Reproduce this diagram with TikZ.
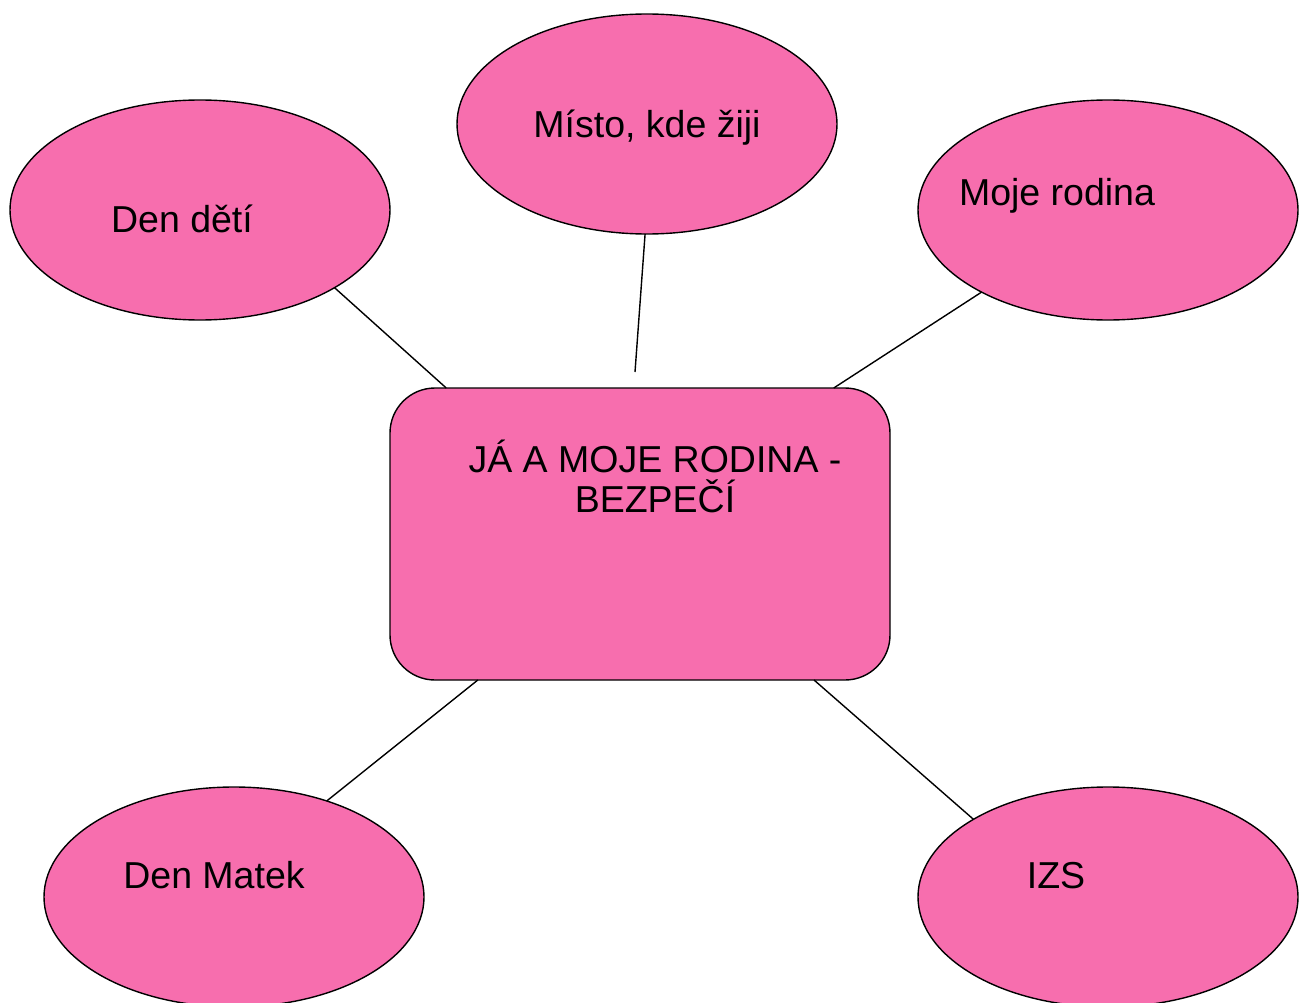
\documentclass[tikz,border=0pt]{standalone}
\usepackage{fontspec}
\setmainfont{Liberation Sans}
\usetikzlibrary{shapes.geometric}

\definecolor{pinkfill}{RGB}{247,110,174}

\begin{document}
\begin{tikzpicture}[x=1pt, y=-1pt,
topicnode/.style={ellipse, draw=black, fill=pinkfill, line width=1.4pt, minimum width=380pt, minimum height=220pt, inner sep=0pt, outer sep=0pt},
mainnode/.style={rectangle, rounded corners=45pt, draw=black, fill=pinkfill, line width=1.4pt, minimum width=500pt, minimum height=292pt, inner sep=0pt, outer sep=0pt},
labeltext/.style={anchor=base, font=\fontsize{37.5}{40}\selectfont, inner sep=0pt},
link/.style={draw=black, line width=1.4pt},
]
\useasboundingbox (0,0) rectangle (1306,1003);
%Nodes
\node[mainnode]      (Main)      at (640,534)   {};
\node[topicnode]     (Deti)      at (200,210)   {};
\node[topicnode]     (Misto)     at (647,124)   {};
\node[topicnode]     (Rodina)    at (1108,210)  {};
\node[topicnode]     (Matek)     at (234,897)   {};
\node[topicnode]     (IZS)       at (1108,897)  {};
\coordinate          (MistoEnd)  at (635,372);

%Texts
\node[labeltext]     (MainA)     at (655,472)   {JÁ A MOJE RODINA -};
\node[labeltext]     (MainB)     at (655,512)   {BEZPEČÍ};
\node[labeltext]     (DetiT)     at (182,233)   {Den dětí};
\node[labeltext]     (MistoT)    at (647,138)   {Místo, kde žiji};
\node[labeltext]     (RodinaT)   at (1057,205)  {Moje rodina};
\node[labeltext]     (MatekT)    at (214,888)   {Den Matek};
\node[labeltext]     (IZST)      at (1056,888)  {IZS};

%Lines
\draw[link] (Deti.-30.6) -- (Main.143.7);
\draw[link] (Misto.-91.5) -- (MistoEnd);
\draw[link] (Rodina.-147.6) -- (Main.37.1);
\draw[link] (Main.-138.5) -- (Matek.46.8);
\draw[link] (Main.-40.1) -- (IZS.150.3);
\end{tikzpicture}
\end{document}
